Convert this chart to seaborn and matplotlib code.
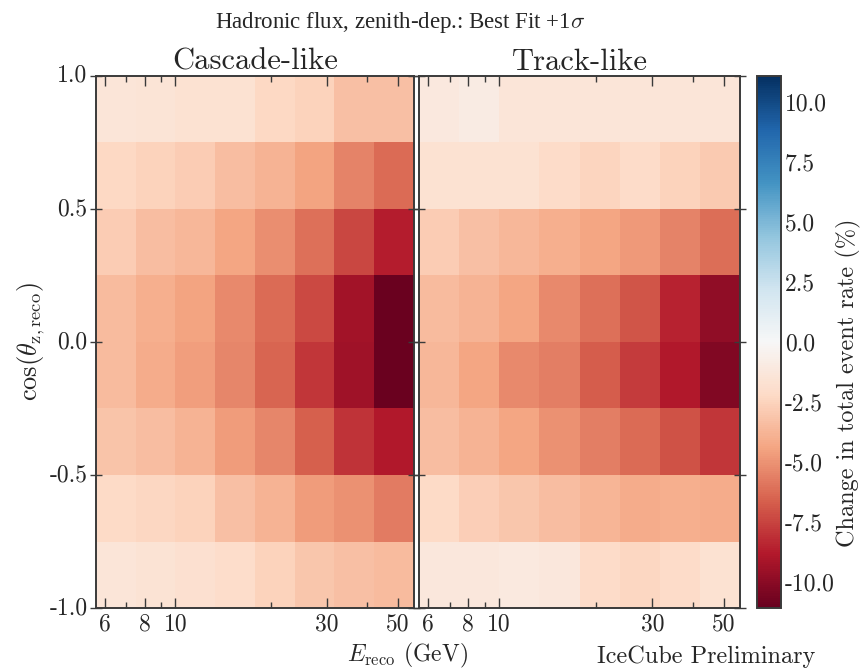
import numpy as np
import pandas as pd
import matplotlib
matplotlib.use("Agg")
import matplotlib.pyplot as plt
import seaborn as sns

# ---- data -----------------------------------------------------------
# energy bin edges (log10 GeV): 8 equal log bins from 10^0.75 to 10^1.75
log_e_edges = [0.75, 0.875, 1.0, 1.125, 1.25, 1.375, 1.5, 1.625, 1.75]
# cos(zenith) bin labels, top row first
coszen_rows = ["0.875", "0.625", "0.375", "0.125", "-0.125", "-0.375", "-0.625", "-0.875"]
energy_cols = ["6.3", "8.4", "11.2", "15", "20", "26.6", "35.5", "47.3"]

cascade = [
    [-1.4, -1.5, -1.7, -1.7, -2.3, -2.6, -3.3, -3.3],
    [-2.3, -2.6, -2.8, -3.4, -3.9, -4.5, -5.5, -6.3],
    [-2.8, -3.4, -3.7, -4.4, -5.2, -6.1, -7.4, -8.7],
    [-3.5, -4.0, -4.5, -5.3, -6.3, -7.3, -9.3, -11.0],
    [-3.5, -4.1, -4.6, -5.4, -6.5, -7.9, -9.4, -11.0],
    [-3.2, -3.4, -3.9, -4.7, -5.4, -6.6, -8.0, -8.9],
    [-2.2, -2.4, -2.6, -3.3, -3.9, -4.7, -5.1, -5.8],
    [-1.4, -1.6, -1.8, -2.0, -2.6, -3.1, -3.3, -3.5],
]
track = [
    [-1.2, -0.9, -1.4, -1.4, -1.4, -1.4, -1.4, -1.4],
    [-1.7, -1.7, -1.7, -2.1, -2.5, -2.1, -2.6, -2.9],
    [-2.8, -3.3, -3.7, -4.0, -4.4, -4.8, -5.5, -6.2],
    [-3.5, -3.9, -4.4, -5.3, -6.1, -7.0, -8.5, -9.8],
    [-3.7, -4.4, -5.3, -5.7, -6.7, -7.8, -8.9, -10.3],
    [-3.4, -3.9, -4.4, -5.1, -5.7, -6.3, -7.1, -7.9],
    [-2.2, -2.7, -3.1, -3.4, -3.8, -4.1, -4.0, -4.1],
    [-1.3, -1.3, -1.1, -1.3, -2.1, -2.4, -2.1, -1.7],
]
panel_titles = ["Cascade-like", "Track-like"]
x_major = [6, 8, 10, 30, 50]
x_minor = [7, 9, 20, 40]
y_ticks = [1.0, 0.5, 0.0, -0.5, -1.0]
cbar_ticks = [10.0, 7.5, 5.0, 2.5, 0.0, -2.5, -5.0, -7.5, -10.0]
vlim = 11.1

# ---- style ----------------------------------------------------------
sns.set_theme(style="white")
plt.rcParams["font.family"] = ["cmr10", "DejaVu Serif"]
plt.rcParams["mathtext.fontset"] = "cm"
plt.rcParams["axes.unicode_minus"] = False
plt.rcParams["axes.formatter.use_mathtext"] = True

fig = plt.figure(figsize=(8.6, 6.72), dpi=100)
axL = fig.add_axes([0.1116, 0.0952, 0.3698, 0.7918])
axR = fig.add_axes([0.4872, 0.0952, 0.3733, 0.7918])
cax = fig.add_axes([0.8802, 0.0952, 0.0279, 0.7918])

e0 = log_e_edges[0]
de = log_e_edges[1] - log_e_edges[0]

def epos(e):
    return (np.log10(e) - e0) / de

def ypos(c):
    return (1.0 - c) / 0.25

spine_col = "#3a3a3a"
for i, (ax, data, title) in enumerate(zip([axL, axR], [cascade, track], panel_titles)):
    df = pd.DataFrame(data, index=coszen_rows, columns=energy_cols)
    sns.heatmap(df, ax=ax, cmap="RdBu", vmin=-vlim, vmax=vlim,
                cbar=(i == 0), cbar_ax=cax if i == 0 else None)
    ax.set_axisbelow(False)
    for s in ax.spines.values():
        s.set_visible(True)
        s.set_color(spine_col)
        s.set_linewidth(1.4)
        s.set_zorder(5)
    ax.set_xticks([epos(e) for e in x_major])
    ax.set_xticklabels([str(e) for e in x_major], rotation=0)
    ax.set_xticks([epos(e) for e in x_minor], minor=True)
    ax.set_yticks([ypos(c) for c in y_ticks])
    if i == 0:
        ax.set_yticklabels(["%.1f" % c for c in y_ticks], rotation=0)
        ax.set_ylabel(r"$\cos(\theta_{\rm z,reco})$", fontsize=19, labelpad=2)
    else:
        ax.set_yticklabels([])
        ax.set_ylabel("")
    ax.set_xlabel("")
    ax.tick_params(axis="x", which="major", direction="in", length=7, width=1,
                   color=spine_col, top=True, bottom=True, labelsize=17, pad=4)
    ax.tick_params(axis="x", which="minor", direction="in", length=4, width=1,
                   color=spine_col, top=True, bottom=True)
    ax.tick_params(axis="y", which="major", direction="inout", length=8, width=1,
                   color=spine_col, left=True, right=True, labelsize=17, pad=2)
    ax.set_title(title, fontsize=22, pad=1)

cb = axL.collections[0].colorbar
cb.outline.set_visible(True)
cb.outline.set_linewidth(1.4)
cb.outline.set_edgecolor(spine_col)
cb.set_ticks(cbar_ticks)
cb.set_ticklabels(["%.1f" % t for t in cbar_ticks])
cax.tick_params(direction="in", length=5, width=1, color=spine_col, labelsize=17, pad=3)

fig.text(0.465, 0.966, r"Hadronic flux, zenith-dep.: Best Fit +1$\sigma$",
         ha="center", va="center", fontsize=16.5, family="Liberation Serif")
fig.text(0.474, 0.025, r"$E_{\rm reco}$ (GeV)", ha="center", va="center", fontsize=17)
fig.text(0.821, 0.022, "IceCube Preliminary", ha="center", va="center", fontsize=17.5)
fig.text(0.986, 0.43, "Change in total event rate (%)", rotation=90,
         ha="center", va="center", fontsize=17.5)

fig.savefig("out.png", dpi=100)
